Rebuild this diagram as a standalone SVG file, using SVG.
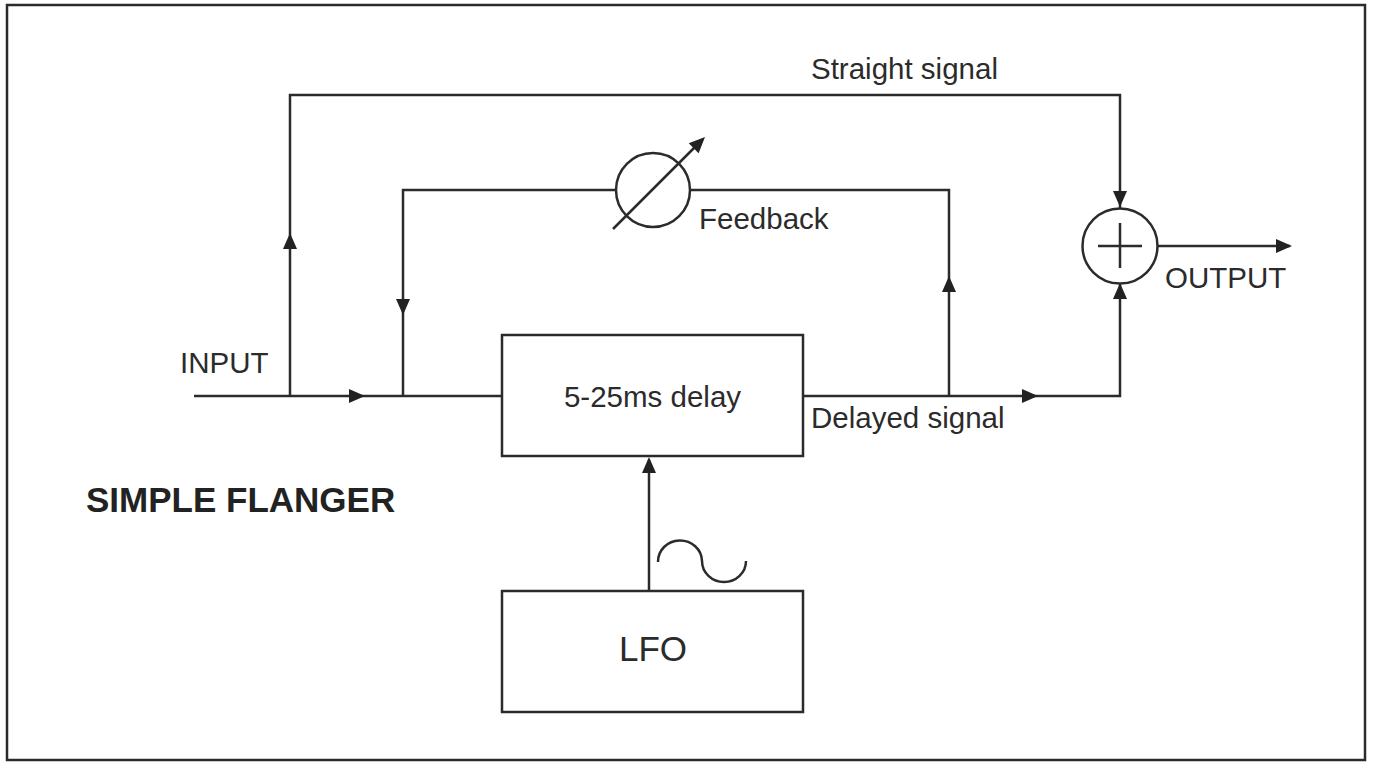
<svg xmlns="http://www.w3.org/2000/svg" xmlns:xlink="http://www.w3.org/1999/xlink" width="1375" height="762" viewBox="0 0 1375 762">
<style>
.ln{fill:none;stroke:#2b2b2b;stroke-width:2.5}
.bx{fill:#fff;stroke:#2b2b2b;stroke-width:2.5}
.ah{fill:#222}
.t{font-family:"Liberation Sans",Arial,sans-serif;font-size:29.5px;fill:#2b2b2b}
.tc{text-anchor:middle}
.b{font-weight:bold;font-size:35px;fill:#222}
</style>
<defs>
<path id="ah" class="ah" d="M0,0 L-16,-7 L-16,7 Z"/>
</defs>
<rect x="0" y="0" width="1375" height="762" fill="#fff"/>
<rect id="frame" x="7" y="5" width="1358" height="755" fill="none" stroke="#2b2b2b" stroke-width="2.5"/>

<g id="connectors">
  <!-- input line -->
  <path class="ln" d="M194,396 H502"/>
  <!-- straight signal path -->
  <path class="ln" d="M290,396 V95 H1120 V208"/>
  <!-- feedback loop -->
  <path class="ln" d="M949,396 V190 H690"/>
  <path class="ln" d="M616,190 H403 V396"/>
  <!-- delayed signal -->
  <path class="ln" d="M803,396 H1120 V283"/>
  <!-- output -->
  <path class="ln" d="M1158,246 H1290"/>
  <!-- LFO to delay -->
  <path class="ln" d="M649,591 V460"/>
  <!-- arrowheads -->
  <use xlink:href="#ah" transform="translate(365,396)"/>
  <use xlink:href="#ah" transform="translate(290,233) rotate(-90)"/>
  <use xlink:href="#ah" transform="translate(403,315) rotate(90)"/>
  <use xlink:href="#ah" transform="translate(949,276) rotate(-90)"/>
  <use xlink:href="#ah" transform="translate(1038,396)"/>
  <use xlink:href="#ah" transform="translate(1120,207) rotate(90)"/>
  <use xlink:href="#ah" transform="translate(1120,283) rotate(-90)"/>
  <use xlink:href="#ah" transform="translate(1292,246)"/>
  <use xlink:href="#ah" transform="translate(649,457) rotate(-90)"/>
</g>

<g id="feedback-pot">
  <circle class="ln" cx="653" cy="190" r="37"/>
  <path class="ln" d="M613,229 L697,145"/>
  <use xlink:href="#ah" transform="translate(705,137) rotate(-45)"/>
  <text class="t" x="699" y="229">Feedback</text>
</g>

<g id="sum">
  <circle class="ln" cx="1120" cy="246" r="37.5"/>
  <path class="ln" d="M1098,246 H1142 M1120,223 V268"/>
</g>

<g id="delay">
  <rect class="bx" x="502" y="335" width="301" height="121"/>
  <text class="t tc" x="652.5" y="407">5-25ms delay</text>
</g>

<g id="lfo">
  <rect class="bx" x="502" y="591" width="301" height="121"/>
  <text class="t tc" x="653" y="661" style="font-size:35px">LFO</text>
  <path class="ln" d="M658,562 A22,21 0 0 1 702,561 A22,21 0 0 0 746,561"/>
</g>

<g id="labels">
  <text class="t" x="811" y="79">Straight signal</text>
  <text class="t" x="180" y="373">INPUT</text>
  <text class="t" x="1165" y="288">OUTPUT</text>
  <text class="t" x="811" y="428">Delayed signal</text>
  <text class="t b" x="86" y="512">SIMPLE FLANGER</text>
</g>
</svg>
